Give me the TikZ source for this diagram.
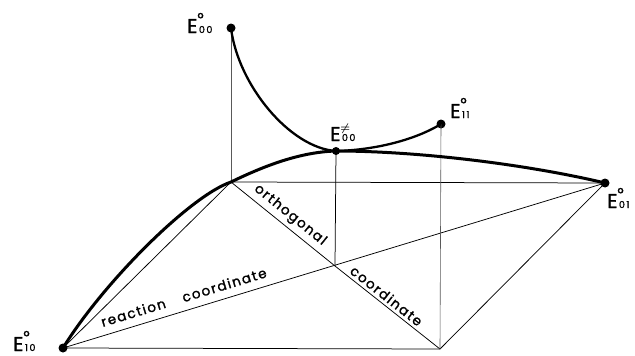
\documentclass[tikz,border=0pt]{standalone}
\usepackage{fontspec}
\setmainfont{Poppins}[FakeBold=1.6]
\newfontfamily\axfont{Poppins}[LetterSpace=11,FakeBold=1.4]
\newcommand{\Elab}[2]{E\rlap{\raisebox{9.5pt}{\fontsize{15}{15}\selectfont #1}}{\fontsize{9.5}{9.5}\selectfont\hspace{1.5pt}#2}}
\newcommand{\tsmark}{\raisebox{10pt}{\fontsize{11}{11}\selectfont$\boldsymbol{\neq}$}}
\usepackage{amsmath}
\begin{document}
\begin{tikzpicture}[x=1pt,y=-1pt,
  dot/.style={circle, fill=black, inner sep=0pt, minimum size=9pt},
  baseline/.style={line width=0.75pt},
  vertline/.style={line width=0.6pt, black!65},
  thickcurve/.style={line width=3pt},
  medcurve/.style={line width=2.3pt},
  lab/.style={anchor=base west, inner sep=0pt, font=\fontsize{20}{20}\selectfont},
  axis/.style={font=\axfont\fontsize{13.5}{13.5}\selectfont, sloped, inner sep=0pt}]
\useasboundingbox (0,0) rectangle (635,356);
% base points
\coordinate (BL) at (231,182);
\coordinate (BR) at (440,349);
\coordinate (C) at (335,266);
% dots
\node[dot] (E10) at (63,348) {};
\node[dot] (E01) at (605,183) {};
\node[dot] (E00) at (231,28) {};
\node[dot, minimum size=8pt] (Ets) at (336,151) {};
\node[dot] (E11) at (441,124) {};
% base parallelogram and diagonals
\draw[baseline] (E10.center) -- (BL) -- (E01.center) -- (BR) -- cycle;
\draw[baseline] (E10.center) -- node[axis, above=8pt, pos=0.23] {reaction\hspace{13pt} coordinate} (E01.center);
\draw[baseline] (BL) -- node[axis, above=4pt, pos=0.5] {orthogonal} (C)
  -- node[axis, above=3pt, pos=0.44] {coordinate} (BR);
% verticals
\draw[vertline] (E00.center) -- (BL);
\draw[vertline] (E11.center) -- (BR);
\draw[baseline] (Ets.center) -- (C);
% curves
\draw[thickcurve] (E10.center) .. controls (103,283) and (190,196) .. (BL)
  .. controls (266,165) and (301,152) .. (Ets.center)
  .. controls (420,151) and (530,165) .. (E01.center);
\draw[medcurve] (E00.center) .. controls (238,85) and (290,148) .. (Ets.center)
  .. controls (375,150) and (415,140) .. (E11.center);
% labels
\node[lab] (L00) at (187,33) {\Elab{°}{0\hspace{1.5pt}0}};
\node[lab] (Lts) at (330,141) {E\rlap{\tsmark}{\fontsize{9.5}{9.5}\selectfont\hspace{1.5pt}0\hspace{1.5pt}0}};
\node[lab] (L11) at (450,118) {\Elab{°}{1\hspace{1.5pt}1}};
\node[lab] (L01) at (607,208) {\Elab{°}{0\hspace{1.5pt}1}};
\node[lab] (L10) at (13,351) {\Elab{°}{1\hspace{1.5pt}0}};
\end{tikzpicture}
\end{document}
